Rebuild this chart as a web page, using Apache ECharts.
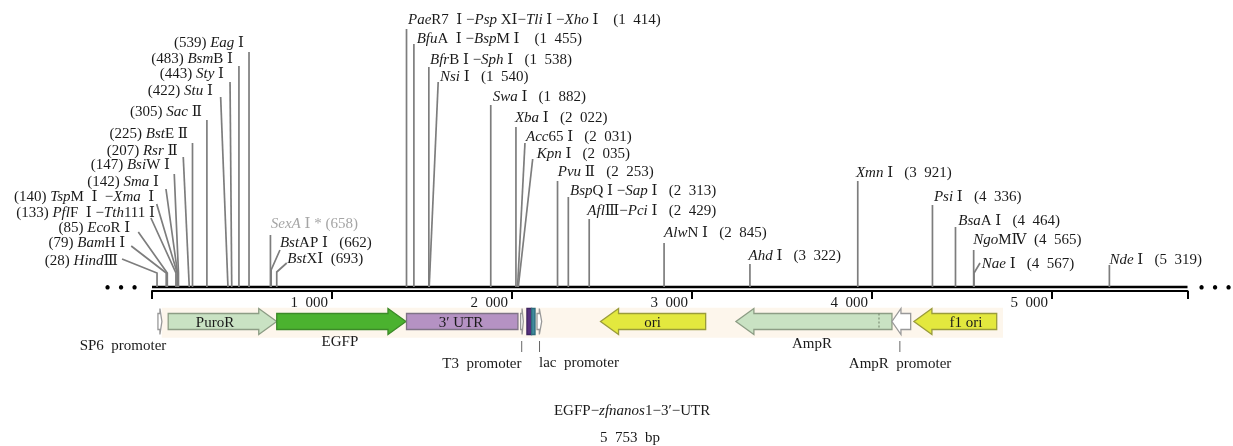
<!DOCTYPE html>
<html><head><meta charset="utf-8">
<style>html,body{margin:0;padding:0;background:#fff}#c{width:1233px;height:446px}</style>
<script src="https://cdn.jsdelivr.net/npm/echarts@6/dist/echarts.min.js"></script>
</head><body><div id="c"></div>
<script>
const FONT = '"Liberation Serif","DejaVu Serif",serif';
const FS = 15;
const SEQ_LENGTH = 5753;
const tickLabels = {1000:'1  000',2000:'2  000',3000:'3  000',4000:'4  000',5000:'5  000'};

// restriction sites: label text and position in bp
const leftSiteLabels = ['(28) {i|Hind}Ⅲ','(79) {i|Bam}H Ⅰ','(85) {i|Eco}R Ⅰ','(133) {i|Pfl}F  Ⅰ −{i|Tth}111 Ⅰ','(140) {i|Tsp}M  Ⅰ  −{i|Xma}  Ⅰ','(142) {i|Sma} Ⅰ','(147) {i|Bsi}W Ⅰ','(207) {i|Rsr} Ⅱ','(225) {i|Bst}E Ⅱ','(305) {i|Sac} Ⅱ','(422) {i|Stu} Ⅰ','(443) {i|Sty} Ⅰ','(483) {i|Bsm}B Ⅰ','(539) {i|Eag} Ⅰ'];
const leftSitePos = [28,79,85,133,140,142,147,207,225,305,422,443,483,539];
const rightSiteLabels = ['{g|SexA}{h| Ⅰ * (658)}','{i|Bst}AP Ⅰ   (662)','{i|Bst}XⅠ  (693)','{i|Pae}R7  Ⅰ −{i|Psp} XⅠ−{i|Tli} Ⅰ −{i|Xho} Ⅰ    (1  414)','{i|Bfu}A  Ⅰ −{i|Bsp}M Ⅰ    (1  455)','{i|Bfr}B Ⅰ −{i|Sph} Ⅰ   (1  538)','{i|Nsi} Ⅰ   (1  540)','{i|Swa} Ⅰ   (1  882)','{i|Xba} Ⅰ   (2  022)','{i|Acc}65 Ⅰ   (2  031)','{i|Kpn} Ⅰ   (2  035)','{i|Pvu} Ⅱ   (2  253)','{i|Bsp}Q Ⅰ −{i|Sap} Ⅰ   (2  313)','{i|Afl}Ⅲ−{i|Pci} Ⅰ   (2  429)','{i|Alw}N Ⅰ   (2  845)','{i|Ahd} Ⅰ   (3  322)','{i|Xmn} Ⅰ   (3  921)','{i|Psi} Ⅰ   (4  336)','{i|Bsa}A Ⅰ   (4  464)','{i|Ngo}MⅣ  (4  565)','{i|Nae} Ⅰ   (4  567)','{i|Nde} Ⅰ   (5  319)'];
const rightSitePos = [658,662,693,1414,1455,1538,1540,1882,2022,2031,2035,2253,2313,2429,2845,3322,3921,4336,4464,4565,4567,5319];

// stem drawing: [foot height, tip dx, tip height, label dx, label height] in px relative to the site
const leftStem = [[18,-35,32,-39,30],[18,-35,45,-41,48],[18,-29,59,-37,63],[18,-25,73,-21,78],[18,-20.5,87,-23,94],[18,-11.6,102,-18.6,109],[18,-4.2,117,-8.5,126],[4,-6,134,-11.6,140],[4,0,148,-4.5,157],[4,0,171,-5,179],[4,-7.3,194,-15,200],[4,-1.7,209,-7.7,217],[4,0,225,-6,232],[4,0,239,-5,248]];
const rightStem = [[4,0,56,0.3,67],[21,8.8,41,8.8,48],[19,10,28,10.6,32],[4,0,262,1.5,271],[4,0,247,2.8,252],[4,0,224,1.2,231],[4,9,209,10.8,214],[4,0,186,1.9,194],[4,0,164,-1,173],[4,7.4,148,8.4,154],[4,14.4,132,18.4,137],[4,0,110,0.2,119],[4,0,94,1.7,100],[4,0,72,-1.9,80],[4,0,48,0,58],[4,0,27,-1.4,35],[4,0,110,-1.8,118],[4,0,86,1.5,94],[4,0,64,2.8,70],[4,0,41,-0.4,51],[18,6,28,7.7,27],[4,0,26,0,31]];

// genetic features: start, end in bp, arrow head length in bp (negative: points left)
const featureNames = ['SP6','PuroR','EGFP','3′ UTR','T3','mcsA','mcsB','lac','ori','AmpR','AmpR promoter','f1 ori'];
const featureStart = [33,90,693,1414,2048,2083,2109,2139,2492,3244,4111,4233];
const featureEnd = [55,693,1411,2033,2063,2109,2128,2165,3076,4111,4215,4693];
const featureHead = [11,100,100,0,7,0,0,13,-100,-100,-50,-100];
const featureFill = ['#fff','#c9e2c3','#4bb22f','#b592c3','#fff','#57307f','#3e8b9e','#fff','#e3e83e','#c9e2c3','#fff','#e3e83e'];
const featureLine = ['#999','#8d9d85','#3c8a28','#7f7386','#999','#3f2560','#2f6c7c','#999','#9a9c3a','#8d9d85','#999','#9a9c3a'];
const ampRSignalBp = 4039;
const bandRange = [54,4728];
const promoterMarks = [2054,2153,4155];

// captions: text, bp centre, height relative to the axis
const captionText = ['PuroR','EGFP','3′ UTR','ori','f1 ori','AmpR','SP6  promoter','T3  promoter','lac  promoter','AmpR  promoter','EGFP−{i|zfnanos}1−3′−UTR','5  753  bp'];
const captionBp = [350,1044,1717,2781,4522,3667,-161,1833,2372,4156,2667,2656];
const captionH = [-32,-51,-32,-32,-32,-53,-55,-73,-72,-73,-120,-147];
const ellipsisBp = [-172,5906];

const c = '#1a1a1a';
const rich = {
  i:{fontStyle:'italic',fontSize:FS,fontFamily:FONT,fill:c},
  g:{fontStyle:'italic',fontSize:FS,fontFamily:FONT,fill:'#a5a5a5'},
  h:{fontSize:FS,fontFamily:FONT,fill:'#a5a5a5'}
};

const chart = echarts.init(document.getElementById('c'),null,{renderer:'canvas'});

function siteSeries(labels,pos,stem,align){
  return {type:'custom',coordinateSystem:'cartesian2d',silent:true,clip:false,z:3,
    data:pos.map((p,i)=>[p,i]),
    renderItem(params,api){
      const i=api.value(1), s=stem[i];
      const pt=(bp,h)=>api.coord([bp,h]);
      const f=pt(api.value(0),0);
      const ax=pt(api.value(0),4), foot=pt(api.value(0),s[0]), tip=pt(api.value(0),s[2]);
      return {type:'group',children:[
        {type:'polyline',shape:{points:[ax,foot,[f[0]+s[1],tip[1]]]},style:{stroke:'#7d7d7d',lineWidth:1.7,fill:null}},
        {type:'text',style:{text:labels[i],x:f[0]+s[3],y:pt(0,s[4])[1],align,verticalAlign:'middle',
          fontFamily:FONT,fontSize:FS,fill:c,rich}}
      ]};
    }};
}

const option = {
  animation:false,backgroundColor:'#fff',
  grid:{left:152,width:1035.5,top:0,height:291,containLabel:false,outerBoundsMode:'none'},
  xAxis:{type:'value',min:0,max:SEQ_LENGTH,interval:1000,
    axisLine:{onZero:false,lineStyle:{color:'#000',width:2}},
    axisTick:{length:8,lineStyle:{color:'#000',width:2}},
    splitLine:{show:false},
    axisLabel:{margin:5,align:'right',padding:[0,4,0,0],color:c,fontFamily:FONT,fontSize:FS,
      formatter:v=>tickLabels[v]||'',hideOverlap:false}},
  yAxis:{type:'value',min:0,max:291,show:false,splitLine:{show:false}},
  series:[
    {type:'custom',silent:true,clip:false,z:1,data:[[bandRange[0],bandRange[1]]],
      renderItem(p,api){
        const a=api.coord([api.value(0),-16.7]),b=api.coord([api.value(1),-46.7]);
        return {type:'rect',shape:{x:a[0],y:a[1],width:b[0]-a[0],height:b[1]-a[1]},style:{fill:'#fdf6ec'}};
      }},
    {type:'line',silent:true,clip:false,z:2,symbol:'none',data:[[0,4],[SEQ_LENGTH,4]],
      lineStyle:{color:'#000',width:2.5}},
    {type:'custom',silent:true,clip:false,z:2,data:featureNames.map((n,i)=>[featureStart[i],featureEnd[i],featureHead[i],i]),
      renderItem(p,api){
        const s=api.value(0),e=api.value(1),hd=api.value(2),i=api.value(3);
        const cy=-30.5,bh=8,hh=13,P=(bp,h)=>api.coord([bp,h]);
        let pts;
        if(hd>0) pts=[P(s,cy+bh),P(e-hd,cy+bh),P(e-hd,cy+hh),P(e,cy),P(e-hd,cy-hh),P(e-hd,cy-bh),P(s,cy-bh)];
        else if(hd<0) pts=[P(e,cy+bh),P(s-hd,cy+bh),P(s-hd,cy+hh),P(s,cy),P(s-hd,cy-hh),P(s-hd,cy-bh),P(e,cy-bh)];
        else { const big=(e-s)>100; const half=big?bh:hh; pts=[P(s,cy+half),P(e,cy+half),P(e,cy-half),P(s,cy-half)]; }
        return {type:'polygon',shape:{points:pts},style:{fill:featureFill[i],stroke:featureLine[i],lineWidth:1.3}};
      }},
    {type:'custom',silent:true,clip:false,z:2,data:[[ampRSignalBp]],
      renderItem(p,api){
        const a=api.coord([api.value(0),-22.5]),b=api.coord([api.value(0),-38.5]);
        return {type:'line',shape:{x1:a[0],y1:a[1],x2:b[0],y2:b[1]},style:{stroke:'#6f7f68',lineWidth:1,lineDash:[2,2]}};
      }},
    {type:'custom',silent:true,clip:false,z:2,data:promoterMarks.map(b=>[b]),
      renderItem(p,api){
        const a=api.coord([api.value(0),-50]),b=api.coord([api.value(0),-61]);
        return {type:'line',shape:{x1:a[0],y1:a[1],x2:b[0],y2:b[1]},style:{stroke:'#666',lineWidth:1}};
      }},
    siteSeries(leftSiteLabels,leftSitePos,leftStem,'right'),
    siteSeries(rightSiteLabels,rightSitePos,rightStem,'left'),
    {type:'custom',silent:true,clip:false,z:4,data:captionText.map((t,i)=>[captionBp[i],captionH[i],i]),
      renderItem(p,api){
        const q=api.coord([api.value(0),api.value(1)]);
        return {type:'text',style:{text:captionText[api.value(2)],x:q[0],y:q[1],align:'center',verticalAlign:'middle',
          fontFamily:FONT,fontSize:FS,fill:c,rich}};
      }},
    {type:'custom',silent:true,clip:false,z:4,data:ellipsisBp.map(b=>[b]),
      renderItem(p,api){
        const q=api.coord([api.value(0),2]);
        return {type:'text',style:{text:'•  •  •',x:q[0],y:q[1],align:'center',verticalAlign:'middle',
          fontFamily:FONT,fontSize:16,fontWeight:'bold',fill:'#000'}};
      }}
  ]
};
chart.setOption(option);
</script></body></html>
